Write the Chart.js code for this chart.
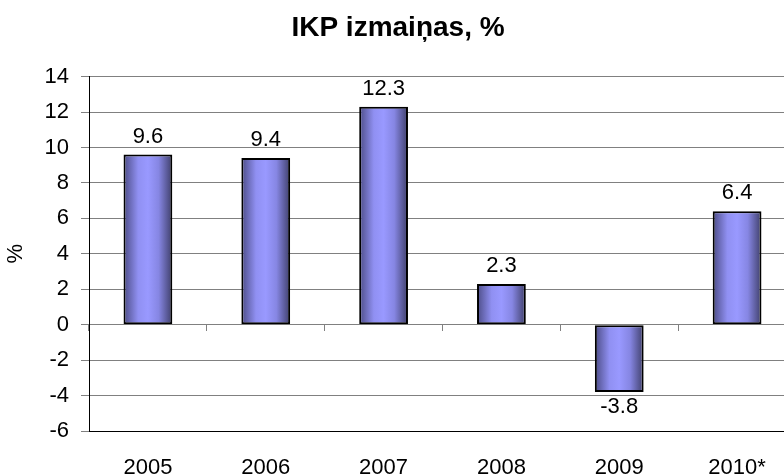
<!DOCTYPE html>
<html>
<head>
<meta charset="utf-8">
<script src="https://cdn.jsdelivr.net/npm/chart.js@4/dist/chart.umd.min.js"></script>
<style>
  html, body { margin: 0; padding: 0; background: #fff; overflow: hidden; }
  #wrap { width: 796px; height: 475px; }
</style>
</head>
<body>
<div id="wrap"><canvas id="gdpChart"></canvas></div>
<script>
// Daten
const years = ['2005', '2006', '2007', '2008', '2009', '2010*'];
const gdpChange = [9.6, 9.4, 12.3, 2.3, -3.8, 6.4];
const yTicks = [-6, -4, -2, 0, 2, 4, 6, 8, 10, 12, 14];

const fontFamily = '"Liberation Sans", Arial, sans-serif';
const barFraction = 0.414;

// Zylinder-Verlauf für jeden Balken
function barGradient(context) {
    const chart = context.chart;
    const xScale = chart.scales.x;
    if (!chart.chartArea || !xScale) return '#9999ff';
    const cx = xScale.getPixelForValue(context.dataIndex);
    const half = xScale.width / years.length * barFraction / 2;
    const g = chart.ctx.createLinearGradient(cx - half, 0, cx + half, 0);
    g.addColorStop(0, '#4c4c86');
    g.addColorStop(0.3, '#9090f2');
    g.addColorStop(0.5, '#9999ff');
    g.addColorStop(0.72, '#8686e3');
    g.addColorStop(1, '#3f3f6a');
    return g;
}

// Werte über / unter den Balken
const valueLabels = {
    id: 'valueLabels',
    afterDatasetsDraw(chart) {
        const ctx = chart.ctx;
        const meta = chart.getDatasetMeta(0);
        ctx.save();
        ctx.font = '22px ' + fontFamily;
        ctx.fillStyle = '#000';
        ctx.textAlign = 'center';
        ctx.textBaseline = 'alphabetic';
        meta.data.forEach((bar, i) => {
            const v = gdpChange[i];
            const y = v >= 0 ? bar.y - 12 : bar.y + 21;
            ctx.fillText(v.toFixed(1), bar.x, y);
        });
        ctx.restore();
    }
};

new Chart(document.getElementById('gdpChart'), {
    type: 'bar',
    data: {
        labels: years,
        datasets: [{
            label: 'IKP izmaiņas',
            data: gdpChange,
            backgroundColor: barGradient,
            borderColor: '#000',
            borderWidth: 2,
            borderSkipped: false,
            barPercentage: barFraction,
            categoryPercentage: 1
        }]
    },
    options: {
        responsive: true,
        maintainAspectRatio: false,
        animation: false,
        layout: { padding: 0 },
        plugins: {
            legend: { display: false },
            tooltip: { enabled: false },
            title: {
                display: true,
                text: 'IKP izmaiņas, %',
                color: '#000',
                font: { family: fontFamily, size: 28, weight: 'bold' },
                padding: { top: 11, bottom: 32 }
            }
        },
        scales: {
            x: {
                type: 'category',
                position: 'bottom',
                grid: { display: false },
                border: { display: true, color: '#000', width: 1 },
                ticks: { padding: 16, color: '#000', font: { family: fontFamily, size: 22 } },
                afterFit(scale) { scale.height = 44; }
            },
            x0: {
                type: 'category',
                position: { y: 0 },
                offset: true,
                grid: { offset: true, drawOnChartArea: false, tickLength: 6, color: '#808080' },
                border: { display: true, color: '#808080' },
                ticks: { display: false }
            },
            y: {
                min: yTicks[0],
                max: yTicks[yTicks.length - 1],
                afterBuildTicks(scale) { scale.ticks = yTicks.map(v => ({ value: v })); },
                ticks: { padding: 12, color: '#000', font: { family: fontFamily, size: 22 } },
                grid: { color: '#808080', tickLength: 8 },
                border: { color: '#000', width: 1 },
                title: {
                    display: true,
                    text: '%',
                    color: '#000',
                    font: { family: fontFamily, size: 22 },
                    padding: { top: 3, bottom: 0 }
                },
                afterFit(scale) { scale.width = 89; }
            }
        }
    },
    plugins: [valueLabels]
});
</script>
</body>
</html>
